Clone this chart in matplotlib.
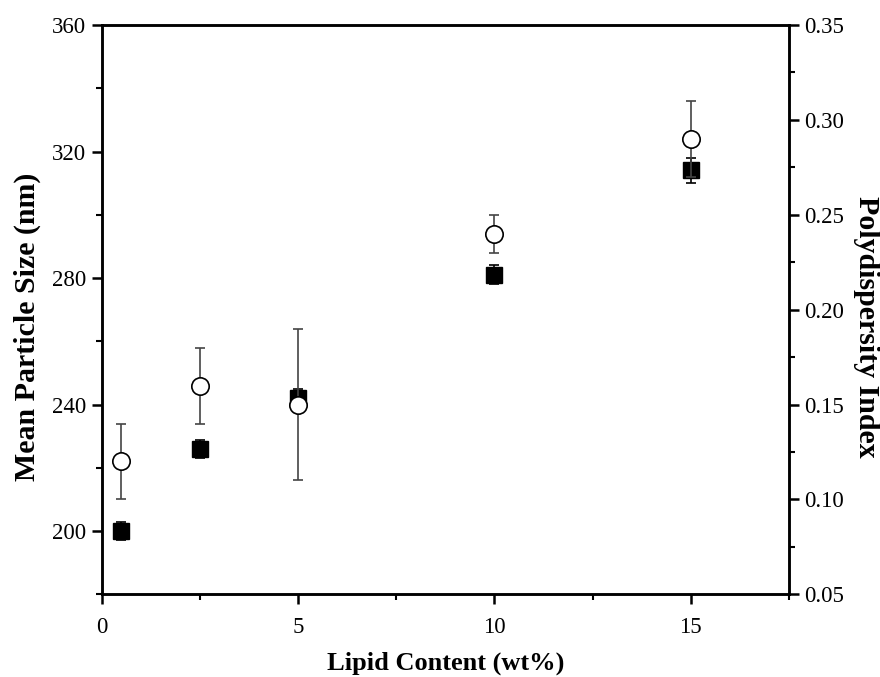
import matplotlib.pyplot as plt
from matplotlib.ticker import MultipleLocator

# ----------------------------------------------------
#                       DATA
# ----------------------------------------------------
lipid = [0.5, 2.5, 5, 10, 15]                 # wt%
size_nm = [200, 226, 242, 281, 314]           # mean particle size
size_err = [2.8, 2.9, 3.0, 3.0, 3.8]
pdi = [0.12, 0.16, 0.15, 0.24, 0.29]          # polydispersity index
pdi_err = [0.02, 0.02, 0.04, 0.01, 0.02]

plt.rcParams["font.family"] = ["Liberation Serif", "DejaVu Serif"]

fig = plt.figure(figsize=(8.8, 6.77), dpi=100)
ax1 = fig.add_axes([101.7 / 880, 1 - 594.3 / 677, (789 - 101.7) / 880, (594.3 - 25) / 677])
ax2 = ax1.twinx()

# ---------------- squares: particle size ----------------
ax1.errorbar(lipid, size_nm, yerr=size_err, fmt="s", color="black",
             markersize=11.5, ecolor="black", elinewidth=1.2, capsize=3.5,
             capthick=1.2)

# ---------------- circles: PDI ----------------
ax2.errorbar(lipid, pdi, yerr=pdi_err, fmt="o", markerfacecolor="white",
             markeredgecolor="black", markeredgewidth=1.2, markersize=12.5,
             ecolor="#444444", elinewidth=1.2, capsize=3.5, capthick=1.2)

ax1.set_xlim(0, 17.5)
ax1.set_ylim(180, 360)
ax2.set_ylim(0.05, 0.35)

ax1.xaxis.set_major_locator(MultipleLocator(5))
ax1.xaxis.set_minor_locator(MultipleLocator(2.5))
ax1.yaxis.set_major_locator(MultipleLocator(40))
ax1.yaxis.set_minor_locator(MultipleLocator(20))
ax2.yaxis.set_major_locator(MultipleLocator(0.05))
ax2.yaxis.set_minor_locator(MultipleLocator(0.025))
ax2.yaxis.set_major_formatter(plt.FormatStrFormatter("%.2f"))

for ax in (ax1, ax2):
    for sp in ax.spines.values():
        sp.set_linewidth(1.8)
    ax.tick_params(which="major", direction="out", length=7, width=1.8,
                   labelsize=16.5, pad=4)
    ax.tick_params(which="minor", direction="out", length=4, width=1.5)

ax1.tick_params(axis="x", top=False, pad=9)
ax1.tick_params(axis="y", right=False)

ax1.set_xlabel("Lipid Content (wt%)", fontsize=19, fontweight="bold", labelpad=10)
ax1.set_ylabel("Mean Particle Size (nm)", fontsize=21.5, fontweight="bold", labelpad=8)
ax2.set_ylabel("Polydispersity Index", fontsize=21.5, fontweight="bold",
               rotation=270, labelpad=26)
# both y labels sit a little below the axes centre in the original
ax1.yaxis.label.set_y(0.47)
ax2.yaxis.label.set_y(0.47)

fig.savefig("out.png", dpi=100)
